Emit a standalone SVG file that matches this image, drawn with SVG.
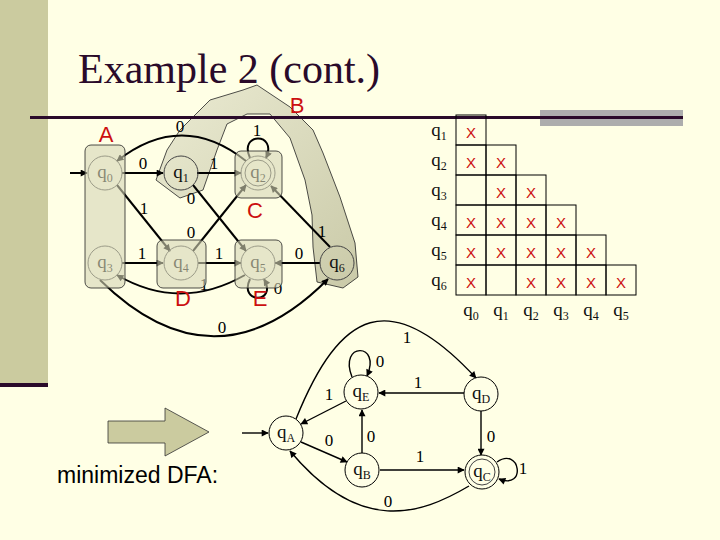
<svg xmlns="http://www.w3.org/2000/svg" width="720" height="540" viewBox="0 0 720 540">
<defs>
<marker id="ah" viewBox="0 0 10 10" refX="9" refY="5" markerWidth="9" markerHeight="7" markerUnits="userSpaceOnUse" orient="auto"><path d="M0,0 L10,5 L0,10 z" fill="#000"/></marker>
<linearGradient id="bg" x1="0" y1="0" x2="1" y2="1"><stop offset="0" stop-color="#E4E4CC"/><stop offset="1" stop-color="#B8B894"/></linearGradient>
</defs>
<style>
.e{fill:none;stroke:#000;stroke-width:2;marker-end:url(#ah)}
.e1{fill:none;stroke:#000;stroke-width:1.4;marker-end:url(#ah)}
.n{fill:none;stroke:#444;stroke-width:1}
.nr{fill:#FFFFE6;stroke:#000;stroke-width:1}
.q{font-family:"Liberation Serif","DejaVu Serif",serif;font-size:19px;fill:#111;text-anchor:middle}
.s{font-size:12px}
.lb{font-family:"Liberation Serif","DejaVu Serif",serif;font-size:17px;fill:#000;text-anchor:middle}
.red{font-family:"Liberation Sans",Arial,sans-serif;font-size:22px;fill:#CC1010;text-anchor:middle}
.box{fill:#D6D6B6;fill-opacity:0.6;stroke:#222;stroke-width:0.8}
.x{font-family:"Liberation Sans",Arial,sans-serif;font-size:15px;fill:#CC1010;text-anchor:middle}
.cell{fill:none;stroke:#000;stroke-width:1}
</style>
<rect width="720" height="540" fill="#FFFFE5"/>
<rect x="0" y="0" width="48" height="383" fill="#CBCB9F"/>
<rect x="0" y="383" width="48" height="4" fill="#2A0A2A"/>
<rect x="540" y="110" width="143" height="16" fill="#ADADAD"/>
<text x="78" y="83" font-family="'Liberation Serif','DejaVu Serif',serif" font-size="42" fill="#2A0A2A">Example 2 (cont.)</text>

<g id="groupB"><polygon points="156,180 180,198 203,190 217,150 227,124 247,114 270,114 290,138 305,180 312,215 313,247 317,282 343,288 358,277 355,243 340,197 323,153 313,130 290,107 257,85 243,90 210,100 180,130 167,150" fill="url(#bg)" fill-opacity="0.75" stroke="#222" stroke-width="0.8"/></g>
<rect x="30" y="116" width="653" height="3" fill="#2A0A2A"/>

<g id="connectors">
<path class="e" d="M70,173 L87,173"/>
<path class="e" d="M122,173 L163,173"/>
<path class="e" d="M197,173 L241,173"/>
<path class="e" d="M246,161 Q182,110 117,161"/>
<path class="e" d="M250,158 C238,132 278,132 266,158"/>
<path class="e" d="M117,185 L170,251"/>
<path class="e" d="M193,185 L246,251"/>
<path class="e" d="M193,251 L246,185"/>
<path class="e" d="M330,247 L271,186"/>
<path class="e" d="M122,263 L163,263"/>
<path class="e" d="M198,263 L241,263"/>
<path class="e" d="M320,263 L275,263"/>
<path class="e" d="M245,275 Q180,312 117,275"/>
<path class="e" d="M250,279 C238,304 278,304 264,279"/>
<path class="e" d="M100,280 Q215,393 328,279"/>

<path class="e1" d="M242,433 L268,433"/>
<path class="e1" d="M346,401 L301,424"/>
<path class="e1" d="M352,377 C338,342 382,342 367,376"/>
<path class="e1" d="M296,419 C340,310 390,285 476,378"/>
<path class="e1" d="M464,393 L379,393"/>
<path class="e1" d="M481,411 L481,455"/>
<path class="e1" d="M362,453 L362,410"/>
<path class="e1" d="M301,442 L347,462"/>
<path class="e1" d="M380,470 L464,470"/>
<path class="e1" d="M469,486 C420,515 360,535 290,451"/>
<path class="e1" d="M497,462 C520,446 527,490 499,479"/>
</g>

<g id="edge-labels">
<text class="lb" x="180" y="132">0</text>
<text class="lb" x="143" y="169">0</text>
<text class="lb" x="214" y="169">1</text>
<text class="lb" x="257" y="136">1</text>
<text class="lb" x="144" y="214">1</text>
<text class="lb" x="191" y="204">0</text>
<text class="lb" x="191" y="238">0</text>
<text class="lb" x="322" y="237">1</text>
<text class="lb" x="142" y="259">1</text>
<text class="lb" x="219" y="259">1</text>
<text class="lb" x="299" y="259">0</text>
<text class="lb" x="204" y="290" font-size="13">1</text>
<text class="lb" x="278" y="294">0</text>
<text class="lb" x="222" y="333">0</text>
<text class="lb" x="329" y="400">1</text>
<text class="lb" x="380" y="367">0</text>
<text class="lb" x="407" y="343">1</text>
<text class="lb" x="418" y="388">1</text>
<text class="lb" x="491" y="442">0</text>
<text class="lb" x="371" y="442">0</text>
<text class="lb" x="329" y="446">0</text>
<text class="lb" x="420" y="462">1</text>
<text class="lb" x="388" y="507">0</text>
<text class="lb" x="523" y="474">1</text>
</g>

<g id="q0"><circle class="n" cx="105" cy="173" r="17"/><text class="q" x="105" y="178">q<tspan class="s" dy="4">0</tspan></text></g>
<g id="q1"><circle class="n" cx="181" cy="173" r="17"/><text class="q" x="181" y="178">q<tspan class="s" dy="4">1</tspan></text></g>
<g id="q2"><circle class="n" cx="258" cy="173" r="17"/><circle class="n" cx="258" cy="173" r="13"/><text class="q" x="258" y="178">q<tspan class="s" dy="4">2</tspan></text></g>
<g id="q3"><circle class="n" cx="105" cy="263" r="17"/><text class="q" x="105" y="268">q<tspan class="s" dy="4">3</tspan></text></g>
<g id="q4"><circle class="n" cx="181" cy="263" r="17"/><text class="q" x="181" y="268">q<tspan class="s" dy="4">4</tspan></text></g>
<g id="q5"><circle class="n" cx="258" cy="263" r="17"/><text class="q" x="258" y="268">q<tspan class="s" dy="4">5</tspan></text></g>
<g id="q6"><circle class="n" cx="337" cy="263" r="17"/><text class="q" x="337" y="268">q<tspan class="s" dy="4">6</tspan></text></g>

<g id="groupA"><rect class="box" x="85" y="145" width="40" height="143" rx="6"/><text class="red" x="106" y="142">A</text></g>
<g id="groupC"><rect class="box" x="235" y="151" width="47" height="47" rx="6"/><text class="red" x="255" y="218">C</text></g>
<g id="groupD"><rect class="box" x="157" y="240" width="49" height="48" rx="6"/><text class="red" x="183" y="306">D</text></g>
<g id="groupE"><rect class="box" x="235" y="240" width="47" height="48" rx="6"/><text class="red" x="260" y="306">E</text></g>
<text class="red" x="297" y="113">B</text>

<g id="table">
<g class="cell">
<rect x="456" y="115" width="30" height="30"/>
<rect x="456" y="145" width="30" height="30"/><rect x="486" y="145" width="30" height="30"/>
<rect x="456" y="175" width="30" height="30"/><rect x="486" y="175" width="30" height="30"/><rect x="516" y="175" width="30" height="30"/>
<rect x="456" y="205" width="30" height="30"/><rect x="486" y="205" width="30" height="30"/><rect x="516" y="205" width="30" height="30"/><rect x="546" y="205" width="30" height="30"/>
<rect x="456" y="235" width="30" height="30"/><rect x="486" y="235" width="30" height="30"/><rect x="516" y="235" width="30" height="30"/><rect x="546" y="235" width="30" height="30"/><rect x="576" y="235" width="30" height="30"/>
<rect x="456" y="265" width="30" height="30"/><rect x="486" y="265" width="30" height="30"/><rect x="516" y="265" width="30" height="30"/><rect x="546" y="265" width="30" height="30"/><rect x="576" y="265" width="30" height="30"/><rect x="606" y="265" width="30" height="30"/>
</g>
<text class="x" x="471" y="138">X</text>
<text class="x" x="471" y="168">X</text><text class="x" x="501" y="168">X</text>
<text class="x" x="501" y="198">X</text><text class="x" x="531" y="198">X</text>
<text class="x" x="471" y="228">X</text><text class="x" x="501" y="228">X</text><text class="x" x="531" y="228">X</text><text class="x" x="561" y="228">X</text>
<text class="x" x="471" y="258">X</text><text class="x" x="501" y="258">X</text><text class="x" x="531" y="258">X</text><text class="x" x="561" y="258">X</text><text class="x" x="591" y="258">X</text>
<text class="x" x="471" y="288">X</text><text class="x" x="531" y="288">X</text><text class="x" x="561" y="288">X</text><text class="x" x="591" y="288">X</text><text class="x" x="621" y="288">X</text>
<text class="q" x="439" y="136">q<tspan class="s" dy="4">1</tspan></text>
<text class="q" x="439" y="166">q<tspan class="s" dy="4">2</tspan></text>
<text class="q" x="439" y="196">q<tspan class="s" dy="4">3</tspan></text>
<text class="q" x="439" y="226">q<tspan class="s" dy="4">4</tspan></text>
<text class="q" x="439" y="256">q<tspan class="s" dy="4">5</tspan></text>
<text class="q" x="439" y="286">q<tspan class="s" dy="4">6</tspan></text>
<text class="q" x="471" y="316">q<tspan class="s" dy="4">0</tspan></text>
<text class="q" x="501" y="316">q<tspan class="s" dy="4">1</tspan></text>
<text class="q" x="531" y="316">q<tspan class="s" dy="4">2</tspan></text>
<text class="q" x="561" y="316">q<tspan class="s" dy="4">3</tspan></text>
<text class="q" x="591" y="316">q<tspan class="s" dy="4">4</tspan></text>
<text class="q" x="621" y="316">q<tspan class="s" dy="4">5</tspan></text>
</g>

<g id="arrow"><polygon points="108,421 165,421 165,408 209,432 165,456 165,443 108,443" fill="#CBCB9F" stroke="#333" stroke-width="0.8"/></g>
<text x="57" y="483" font-family="'Liberation Sans',Arial,sans-serif" font-size="23" fill="#000">minimized DFA:</text>

<g id="qA"><circle class="nr" cx="286" cy="433" r="17"/><text class="q" x="286" y="438">q<tspan class="s" dy="4">A</tspan></text></g>
<g id="qE"><circle class="nr" cx="361" cy="392" r="17"/><text class="q" x="361" y="397">q<tspan class="s" dy="4">E</tspan></text></g>
<g id="qD"><circle class="nr" cx="481" cy="394" r="17"/><text class="q" x="481" y="399">q<tspan class="s" dy="4">D</tspan></text></g>
<g id="qB"><circle class="nr" cx="362" cy="470" r="17"/><text class="q" x="362" y="475">q<tspan class="s" dy="4">B</tspan></text></g>
<g id="qC"><circle class="nr" cx="482" cy="472" r="17"/><circle class="n" cx="482" cy="472" r="13" stroke="#000"/><text class="q" x="482" y="477">q<tspan class="s" dy="4">C</tspan></text></g>
</svg>
